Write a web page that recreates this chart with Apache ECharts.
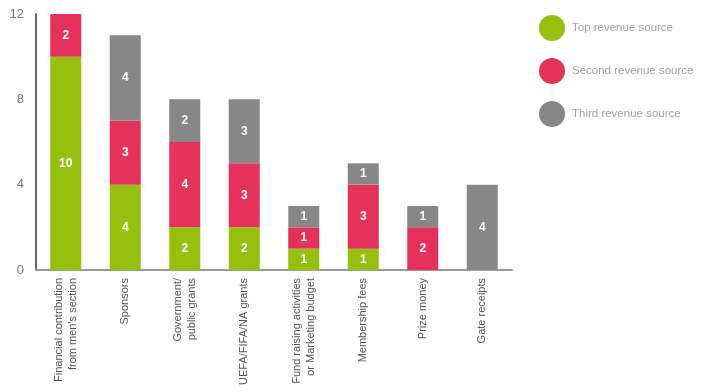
<!DOCTYPE html>
<html><head><meta charset="utf-8">
<script src="https://cdn.jsdelivr.net/npm/echarts@6/dist/echarts.min.js"></script>
<style>html,body{margin:0;padding:0;background:#fff}#c{width:711px;height:392px}</style>
</head><body><div id="c"></div>
<script>
const categories = ["Financial contribution\nfrom men's section","Sponsors","Government/\npublic grants","UEFA/FIFA/NA grants","Fund raising activities\nor Marketing budget","Membership fees","Prize money","Gate receipts"];
const topSource = [10,4,2,2,1,1,0,0];
const secondSource = [2,3,4,3,1,3,2,0];
const thirdSource = [0,4,2,3,1,1,1,4];
const seriesNames = ["Top revenue source","Second revenue source","Third revenue source"];
const colors = ["#97BF0D","#E5325A","#878787"];
const yTicks = {min:0,max:12,interval:4};

const font = "'Liberation Sans', Arial, sans-serif";
const chart = echarts.init(document.getElementById('c'));
const mk = (name, data, color) => ({
  name, type:'bar', stack:'s', data, barWidth:31,
  itemStyle:{color},
  label:{show:true, position:'inside', color:'#fff', fontWeight:'bold', fontSize:12, fontFamily:font,
    formatter:p=>p.value?String(p.value):''}
});
chart.setOption({
  animation:false,
  textStyle:{fontFamily:font},
  grid:{left:36,top:14,width:476,height:256,containLabel:false},
  legend:{orient:'vertical',left:534,top:10,itemWidth:26,itemHeight:26,itemGap:17,icon:'circle',
    textStyle:{color:'#a0a0a8',fontSize:11.5,fontFamily:font,padding:[0,0,0,2]},
    data:seriesNames},
  xAxis:{type:'category',data:categories,
    axisLine:{lineStyle:{color:'#999',width:2}},axisTick:{show:false},
    axisLabel:{rotate:90,color:'#555',fontSize:11,fontFamily:font,margin:8,interval:0,lineHeight:14}},
  yAxis:{type:'value',min:yTicks.min,max:yTicks.max,interval:yTicks.interval,
    splitLine:{show:false},axisTick:{show:false},
    axisLine:{show:true,lineStyle:{color:'#666',width:2}},
    axisLabel:{color:'#777',fontSize:13,fontFamily:font,margin:12}},
  series:[mk(seriesNames[0],topSource,colors[0]),mk(seriesNames[1],secondSource,colors[1]),mk(seriesNames[2],thirdSource,colors[2])]
});
</script></body></html>
